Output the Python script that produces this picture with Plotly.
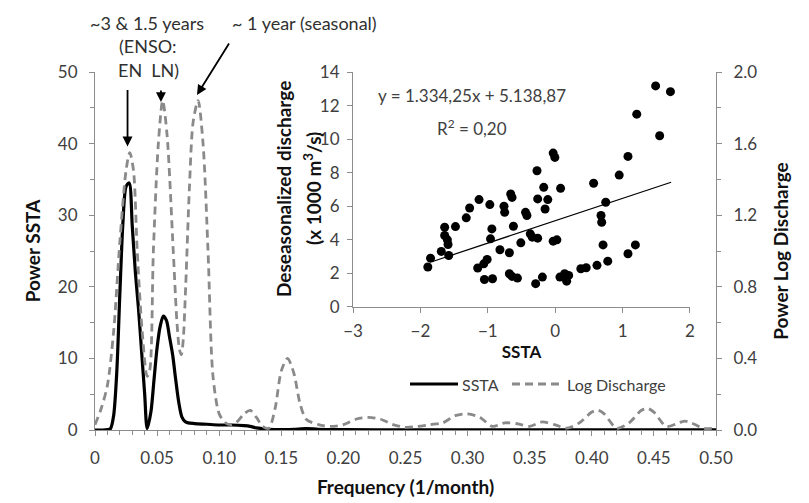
import plotly.graph_objects as go

# ---------------- data ----------------
freq_ssta = [0, 0.005, 0.01, 0.0125, 0.015, 0.0175, 0.02, 0.0225, 0.025, 0.0275, 0.03, 0.0325,
             0.035, 0.0375, 0.04, 0.042, 0.045, 0.0475, 0.05, 0.0525, 0.055, 0.0575, 0.06, 0.0625,
             0.065, 0.0675, 0.07, 0.0725, 0.075, 0.08, 0.09, 0.10, 0.11, 0.12, 0.125, 0.13, 0.14,
             0.15, 0.16, 0.17, 0.18, 0.20, 0.25, 0.30, 0.35, 0.40, 0.45, 0.50]
power_ssta = [0, 0, 0.05, 0.2, 2, 8, 19, 29, 34, 34.5, 28.5, 22,
              17, 11, 5, 0.2, 2.5, 7, 11.5, 14.5, 15.9, 15.3, 13, 10.5,
              7, 3.8, 1.8, 1.2, 1.0, 0.9, 0.8, 0.7, 0.7, 0.6, 0.5, 0.3, 0.1,
              0.05, 0.1, 0.2, 0.1, 0.05, 0.03, 0.03, 0.03, 0.03, 0.03, 0.03]

freq_ld = [0, 0.005, 0.01, 0.015, 0.02, 0.025, 0.028, 0.031, 0.034, 0.038,
           0.042, 0.044, 0.047, 0.051, 0.0545, 0.058, 0.063, 0.066, 0.068, 0.0695,
           0.071, 0.073, 0.076, 0.079, 0.083, 0.087, 0.091, 0.095, 0.1, 0.105, 0.11, 0.115,
           0.12, 0.125, 0.13, 0.135, 0.14, 0.145, 0.15, 0.155, 0.16, 0.165,
           0.17, 0.18, 0.19, 0.2, 0.21, 0.22, 0.23, 0.24, 0.25, 0.26,
           0.27, 0.28, 0.29, 0.3, 0.31, 0.32, 0.33, 0.34, 0.35, 0.36,
           0.37, 0.38, 0.39, 0.4, 0.405, 0.41, 0.42, 0.43, 0.44, 0.445,
           0.45, 0.46, 0.47, 0.475, 0.48, 0.49, 0.5]
power_ld = [0.03, 0.12, 0.25, 0.55, 1.05, 1.45, 1.55, 1.45, 1.0, 0.55,
            0.3, 0.33, 1.0, 1.6, 1.84, 1.65, 1.0, 0.6, 0.45, 0.42,
            0.5, 0.8, 1.35, 1.72, 1.84, 1.6, 1.0, 0.3, 0.09, 0.04, 0.03, 0.05,
            0.09, 0.11, 0.07, 0.02, 0.01, 0.12, 0.33, 0.40, 0.32, 0.15,
            0.06, 0.03, 0.02, 0.03, 0.06, 0.07, 0.06, 0.03, 0.015, 0.02,
            0.03, 0.04, 0.08, 0.09, 0.07, 0.02, 0.04, 0.035, 0.02, 0.045,
            0.03, 0.01, 0.04, 0.10, 0.11, 0.09, 0.01, 0.04, 0.11, 0.12,
            0.1, 0.02, 0.04, 0.05, 0.04, 0.01, 0.01]

# inset scatter: SSTA vs deseasonalized discharge (x 1000 m3/s)
inset_ssta = [-1.89, -1.85, -1.69, -1.64, -1.64, -1.60, -1.59, -1.58, -1.48, -1.32,
              -1.27, -1.13, -1.15, -1.06, -1.05, -1.01, -0.97, -0.96, -0.94, -0.93,
              -0.82, -0.76, -0.75, -0.68, -0.68, -0.66, -0.64, -0.62, -0.64, -0.56,
              -0.51, -0.44, -0.42, -0.37, -0.34, -0.29, -0.27, -0.26, -0.26, -0.19,
              -0.17, -0.15, -0.11, -0.03, -0.005, -0.03, 0.025, 0.07, 0.08, 0.14,
              0.17, 0.20, 0.38, 0.46, 0.57, 0.62, 0.68, 0.69, 0.71, 0.75,
              0.78, 0.95, 1.08, 1.08, 1.19, 1.21, 1.49, 1.55, 1.71]
inset_discharge = [2.38, 2.91, 3.31, 4.75, 4.26, 4.0, 3.72, 3.07, 4.79, 5.31,
                   5.9, 6.4, 2.32, 2.57, 1.64, 2.83, 6.1, 4.06, 4.65, 1.68,
                   3.41, 6.0, 5.64, 3.23, 1.98, 6.73, 6.53, 4.81, 1.82, 1.72,
                   3.82, 5.64, 5.45, 4.36, 4.16, 1.39, 8.12, 6.44, 4.1, 1.78,
                   7.13, 5.84, 6.4, 9.17, 8.91, 3.92, 4.0, 1.78, 7.07, 1.98,
                   1.54, 1.88, 2.28, 2.34, 7.37, 2.48, 5.45, 5.05, 3.70, 6.24,
                   2.73, 7.86, 8.97, 3.17, 3.70, 11.49, 13.17, 10.2, 12.83]
trend_slope = 1.33425
trend_intercept = 5.13887
trend_x = [-1.83, 1.72]

freq_ticks = [0, 0.05, 0.10, 0.15, 0.20, 0.25, 0.30, 0.35, 0.40, 0.45, 0.50]
freq_ticklabels = ["0", "0.05", "0.10", "0.15", "0.20", "0.25", "0.30", "0.35", "0.40", "0.45", "0.50"]

FONT = "Lato, 'Open Sans', sans-serif"
TICKC = "#404040"
AXC = "#8c8c8c"
SSTA_LINE = dict(color="black", width=3.2)
LD_LINE = dict(color="#8a8a8a", width=2.8, dash="8px,5px")

# plot area in pixels (for placing free texts)
L, R, T, B = 95, 716, 72, 430


def px(xp):
    return (xp - L) / (R - L)


def py(yp):
    return (B - yp) / (B - T)


fig = go.Figure()

fig.add_trace(go.Scatter(x=freq_ssta, y=power_ssta, mode="lines", name="SSTA", showlegend=False,
                         line=dict(**SSTA_LINE, shape="spline", smoothing=0.8),
                         xaxis="x", yaxis="y"))
fig.add_trace(go.Scatter(x=freq_ld, y=power_ld, mode="lines", name="Log Discharge", showlegend=False,
                         line=dict(**LD_LINE, shape="spline", smoothing=0.8),
                         xaxis="x", yaxis="y2"))

fig.add_trace(go.Scatter(x=inset_ssta, y=inset_discharge, mode="markers", showlegend=False,
                         marker=dict(color="black", size=9), xaxis="x3", yaxis="y3"))
fig.add_trace(go.Scatter(x=trend_x, y=[trend_slope * v + trend_intercept for v in trend_x],
                         mode="lines", showlegend=False,
                         line=dict(color="black", width=1.2), xaxis="x3", yaxis="y3"))

axis_common = dict(showgrid=False, zeroline=False, showline=True, linecolor=AXC, linewidth=1.2,
                   ticks="outside", tickcolor=AXC, ticklen=5, tickwidth=1.2, automargin=False,
                   tickfont=dict(family=FONT, size=17, color=TICKC))

fig.update_layout(
    width=809, height=503,
    margin=dict(l=L, r=809 - R, t=T, b=503 - B, autoexpand=False),
    paper_bgcolor="white", plot_bgcolor="white",
    font=dict(family=FONT, color=TICKC),
    xaxis=dict(domain=[0, 1], range=[0, 0.5], tickvals=freq_ticks, ticktext=freq_ticklabels,
               minor=dict(dtick=0.01, ticks="outside", ticklen=4, tickcolor=AXC),
               ticklabelstandoff=7,
               title=dict(text="<b>Frequency (1/month)</b>", font=dict(family=FONT, size=19, color="#111"),
                          standoff=14),
               **axis_common),
    yaxis=dict(range=[0, 50], dtick=10, minor=dict(dtick=5, ticks="outside", ticklen=4, tickcolor=AXC),
               ticklabelstandoff=8,
               title=dict(text="<b>Power SSTA</b>", font=dict(family=FONT, size=19, color="#111"),
                          standoff=12),
               **axis_common),
    yaxis2=dict(range=[0, 2], dtick=0.4, tickformat=".1f", overlaying="y", side="right",
                anchor="x",
                minor=dict(dtick=0.2, ticks="outside", ticklen=4, tickcolor=AXC),
                ticklabelstandoff=8,
                title=dict(text="<b>Power Log Discharge</b>", font=dict(family=FONT, size=19, color="#111"),
                           standoff=18),
                **axis_common),
    xaxis3=dict(domain=[0.4155, 0.9581], range=[-3, 2], dtick=1, anchor="y3",
                ticklabelstandoff=4,
                title=dict(text="<b>SSTA</b>", font=dict(family=FONT, size=17, color="#111"), standoff=5),
                **axis_common),
    yaxis3=dict(domain=[0.3436, 1.0], range=[0, 14], dtick=2, anchor="x3",
                ticklabelstandoff=4,
                **axis_common),
    showlegend=False,
)

# inset y-axis title (two lines)
fig.add_annotation(text="<b>Deseasonalized discharge</b>", xref="paper", yref="paper",
                   x=px(283), y=py(189), textangle=-90, showarrow=False,
                   xanchor="center", yanchor="middle",
                   font=dict(family=FONT, size=19, color="#111"))
fig.add_annotation(text="<b>(x 1000 m<sup>3</sup>/s)</b>", xref="paper", yref="paper",
                   x=px(312), y=py(189), textangle=-90, showarrow=False,
                   xanchor="center", yanchor="middle",
                   font=dict(family=FONT, size=19, color="#111"))

# top annotations
annots = [
    dict(text="~3 & 1.5 years", x=147, y=23),
    dict(text="(ENSO:", x=148, y=46),
    dict(text="EN  LN)", x=148, y=70),
    dict(text="~ 1 year (seasonal)", x=304, y=23),
]
for a in annots:
    fig.add_annotation(text=a["text"], xref="paper", yref="paper",
                       x=px(a["x"]), y=py(a["y"]),
                       showarrow=False, xanchor="center", yanchor="middle",
                       font=dict(family=FONT, size=18, color="#303030"))

# arrows (tip in data coords of main axes, tail as pixel offsets)
arrows = [
    dict(x=0.0262, y=39.6, ax=0, ay=-58),
    dict(x=0.0531, y=45.8, ax=0, ay=-13),
    dict(x=0.0821, y=46.8, ax=33, ay=-53),
]
for a in arrows:
    fig.add_annotation(x=a["x"], y=a["y"], xref="x", yref="y", ax=a["ax"], ay=a["ay"],
                       text="", showarrow=True, arrowhead=2, arrowsize=1.1, arrowwidth=1.8,
                       arrowcolor="black")

# regression equation
fig.add_annotation(text="y = 1.334,25x + 5.138,87", xref="paper", yref="paper",
                   x=px(472), y=py(83), showarrow=False,
                   font=dict(family=FONT, size=17, color="#404040"))
fig.add_annotation(text="R<sup>2</sup> = 0,20", xref="paper", yref="paper",
                   x=px(472), y=py(114), showarrow=False,
                   font=dict(family=FONT, size=17, color="#404040"))

# legend (drawn manually to match the long line samples)
legend_items = [
    dict(name="SSTA", x0=410, x1=458, line=SSTA_LINE),
    dict(name="Log Discharge", x0=512, x1=563, line=LD_LINE),
]
LEG_Y = 384
for it in legend_items:
    fig.add_shape(type="line", xref="paper", yref="paper",
                  x0=px(it["x0"]), x1=px(it["x1"]), y0=py(LEG_Y), y1=py(LEG_Y),
                  line=it["line"])
    fig.add_annotation(text=it["name"], xref="paper", yref="paper",
                       x=px(it["x1"] + 2), y=py(LEG_Y), showarrow=False,
                       xanchor="left", yanchor="middle",
                       font=dict(family=FONT, size=16, color=TICKC))

fig.write_html("out.html")
